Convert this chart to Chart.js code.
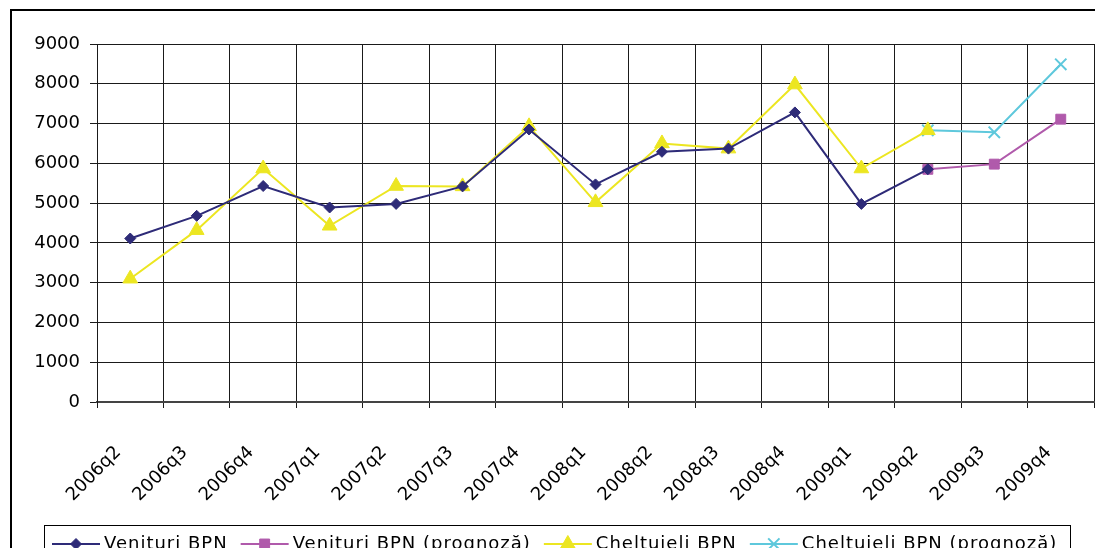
<!DOCTYPE html>
<html>
<head>
<meta charset="utf-8">
<script src="https://cdn.jsdelivr.net/npm/chart.js@4.4.0/dist/chart.umd.min.js"></script>
<style>
html, body { margin: 0; padding: 0; background: #fff; }
</style>
</head>
<body>
<canvas id="chart" width="1095" height="548"></canvas>
<script>
var quarters = ['2006q2', '2006q3', '2006q4', '2007q1', '2007q2', '2007q3', '2007q4',
  '2008q1', '2008q2', '2008q3', '2008q4', '2009q1', '2009q2', '2009q3', '2009q4'];

var venituri = [4110, 4680, 5430, 4890, 4980, 5420, 6850, 5470, 6290, 6370, 7280, 4980, 5850, null, null];
var venituriPrognoza = [null, null, null, null, null, null, null, null, null, null, null, null, 5850, 5980, 7110];
var cheltuieli = [3100, 4320, 5870, 4430, 5430, 5420, 6930, 5020, 6500, 6370, 7980, 5870, 6830, null, null];
var cheltuieliPrognoza = [null, null, null, null, null, null, null, null, null, null, null, null, 6830, 6780, 8490];

var seriesNames = ['Venituri BPN', 'Venituri BPN (prognoză)', 'Cheltuieli BPN', 'Cheltuieli BPN (prognoză)'];

var FONT = '"DejaVu Sans", sans-serif';

// frame round the whole chart + legend drawn like the excel one (line with marker)
var framePlugin = {
  id: 'frame',
  afterDraw: function (chart) {
    var c = chart.ctx;
    c.save();
    c.strokeStyle = '#000';
    c.lineWidth = 2;
    c.strokeRect(11, 10, 1200, 700);

    c.lineWidth = 1;
    c.strokeRect(44.5, 525.5, 1026, 40);

    c.font = '18px ' + FONT;
    c.textBaseline = 'middle';
    c.textAlign = 'left';
    if ('letterSpacing' in c) c.letterSpacing = '1px';
    var x = 52, y = 544;
    chart.data.datasets.forEach(function (ds) {
      c.strokeStyle = ds.borderColor;
      c.fillStyle = ds.backgroundColor;
      c.lineWidth = 2;
      c.beginPath();
      c.moveTo(x, y);
      c.lineTo(x + 48, y);
      c.stroke();
      c.lineWidth = ds.pointBorderWidth;
      Chart.helpers.drawPoint(c, {
        pointStyle: ds.pointStyle,
        radius: ds.pointRadius,
        borderWidth: ds.pointBorderWidth,
        rotation: 0
      }, x + 24, y);
      c.fillStyle = '#000';
      c.fillText(ds.label, x + 52, y);
      x += 52 + c.measureText(ds.label).width + 13;
    });
    c.restore();
  }
};

function lineSet(label, data, color, style, radius, bw) {
  return {
    label: label,
    data: data,
    borderColor: color,
    backgroundColor: color,
    borderWidth: 2,
    tension: 0,
    spanGaps: false,
    pointStyle: style,
    pointRadius: radius,
    pointHoverRadius: radius,
    pointBorderWidth: bw,
    pointBackgroundColor: color,
    pointBorderColor: color
  };
}

var ctx = document.getElementById('chart').getContext('2d');
var chart = new Chart(ctx, {
  type: 'line',
  data: {
    labels: quarters,
    datasets: [
      lineSet(seriesNames[0], venituri, '#2e2b78', 'rectRot', 5.5, 1),
      lineSet(seriesNames[1], venituriPrognoza, '#b05aab', 'rect', 7, 1),
      lineSet(seriesNames[2], cheltuieli, '#ece621', 'triangle', 8.5, 1),
      lineSet(seriesNames[3], cheltuieliPrognoza, '#5ec8dc', 'crossRot', 8, 2)
    ]
  },
  options: {
    responsive: false,
    animation: false,
    devicePixelRatio: 1,
    layout: { autoPadding: false, padding: { top: 44, right: 1, bottom: 0, left: 0 } },
    plugins: {
      legend: { display: false },
      tooltip: { enabled: false }
    },
    scales: {
      x: {
        offset: true,
        grid: { offset: true, color: '#1a1a1a', lineWidth: 1, tickLength: 6 },
        border: { color: '#444', width: 2 },
        ticks: {
          autoSkip: false,
          minRotation: 45,
          maxRotation: 45,
          color: '#000',
          font: { family: FONT, size: 18 },
          padding: 34,
          labelOffset: -12
        },
        afterFit: function (s) {
          s.height = 146;
          s.paddingLeft = 0;
          s.paddingRight = 0;
        }
      },
      y: {
        min: 0,
        max: 9000,
        ticks: {
          stepSize: 1000,
          color: '#000',
          font: { family: FONT, size: 18 },
          padding: 10,
          callback: function (v) { return String(v); }
        },
        grid: { color: '#1a1a1a', lineWidth: 1, tickLength: 7 },
        border: { color: '#1a1a1a', width: 1 },
        afterFit: function (s) {
          s.width = 97;
          s.paddingTop = 0;
          s.paddingBottom = 0;
        }
      }
    }
  },
  plugins: [framePlugin]
});
</script>
</body>
</html>
